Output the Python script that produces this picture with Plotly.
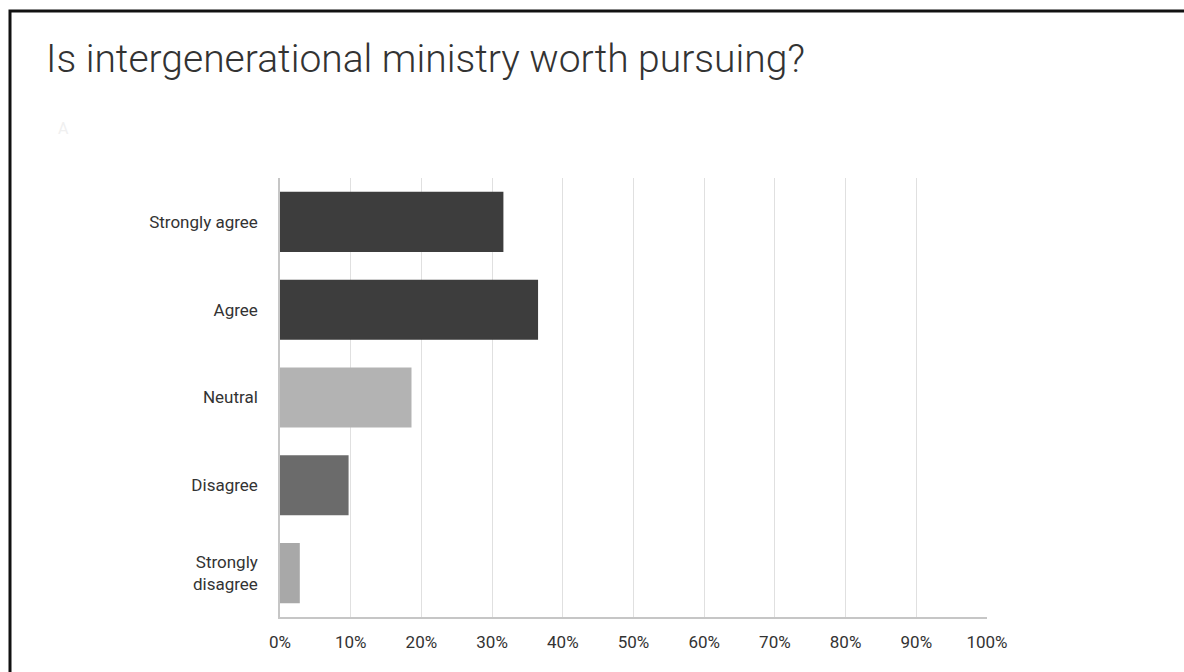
import plotly.graph_objects as go

categories = ["Strongly agree", "Agree", "Neutral", "Disagree", "Strongly<br>disagree"]
values = [31.6, 36.5, 18.6, 9.7, 2.8]
bar_colors = ["#3d3d3d", "#3d3d3d", "#b3b3b3", "#6b6b6b", "#a8a8a8"]
x_ticks = [0, 10, 20, 30, 40, 50, 60, 70, 80, 90, 100]
x_tick_labels = [f"{v}%" for v in x_ticks]
title_text = "Is intergenerational ministry worth pursuing?"

W, H = 1184, 672
L, R, T, B = 280, 1184 - 987, 178, 672 - 617
pw, ph = W - L - R, H - T - B

fig = go.Figure(go.Bar(
    x=values, y=categories, orientation="h",
    marker=dict(color=bar_colors, line=dict(width=0)),
    hoverinfo="skip",
))

fig.update_layout(
    width=W, height=H,
    margin=dict(l=L, r=R, t=T, b=B),
    paper_bgcolor="white", plot_bgcolor="white",
    bargap=0.315,
    showlegend=False,
    title=dict(text=title_text, x=46 / W, xanchor="left", xref="container",
               y=1 - 58 / H, yanchor="middle", yref="container",
               font=dict(family="Roboto", size=39, color="#333333", weight=300)),
    font=dict(family="Roboto", color="#333333"),
)
fig.update_xaxes(
    range=[0, 100], tickvals=x_ticks, ticktext=x_tick_labels,
    showgrid=True, gridcolor="#e0e0e0", gridwidth=1,
    showline=True, linecolor="#c6c6c6", linewidth=1.5,
    zeroline=False, ticks="", ticklabelstandoff=9,
    tickfont=dict(size=17, color="#333333"), fixedrange=True,
)
fig.update_yaxes(
    autorange="reversed", showgrid=False,
    showline=True, linecolor="#c6c6c6", linewidth=1.5,
    ticks="", ticklabelstandoff=17,
    tickfont=dict(size=17, color="#333333"), fixedrange=True,
)

# outer frame (left and top edges visible)
fig.add_shape(type="rect", xref="paper", yref="paper",
              x0=(10 - L) / pw, x1=2.0, y0=-1.0, y1=(H - B - 11) / ph,
              line=dict(color="#111111", width=3), fillcolor="rgba(0,0,0,0)", layer="above")

# faint marker near top-left
fig.add_annotation(text="A", xref="paper", yref="paper",
                   x=(56 - L) / pw, y=(H - B - 117) / ph, showarrow=False,
                   font=dict(size=16, color="#f0f0f0"))

fig.write_html("out.html", config={"displayModeBar": False})
